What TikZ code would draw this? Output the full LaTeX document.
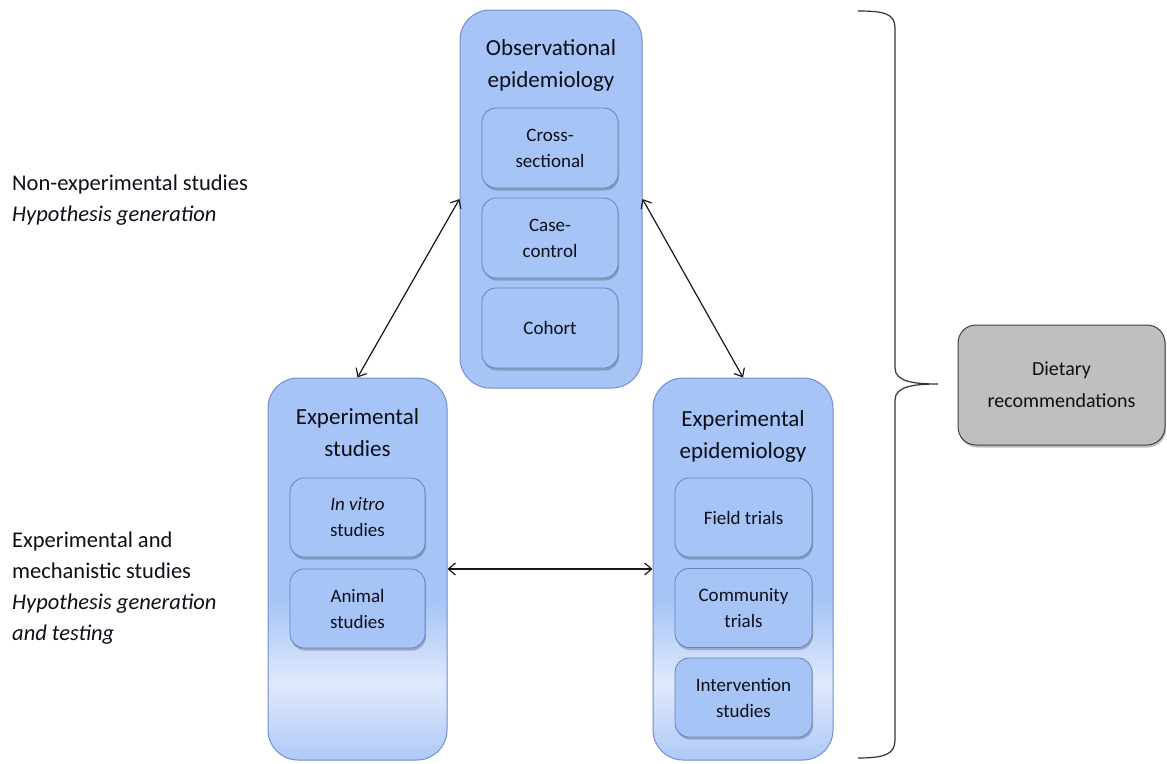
\documentclass[tikz,border=0pt]{standalone}
\usepackage{fontspec}
\setmainfont{Carlito}
\usetikzlibrary{arrows.meta,shadows,calc}
\definecolor{boxblue}{RGB}{166,196,246}
\definecolor{boxlight}{RGB}{224,233,252}
\definecolor{boxborder}{RGB}{112,143,206}
\definecolor{innerborder}{RGB}{100,130,198}
\definecolor{dietgray}{RGB}{191,191,191}
\definecolor{txt}{RGB}{15,15,25}
\pgfdeclareverticalshading{bandshade}{100bp}{color(0bp)=(boxblue); color(25bp)=(boxblue!85!boxlight); color(35bp)=(boxlight); color(46bp)=(boxblue); color(100bp)=(boxblue)}
\tikzset{
  bigbox/.style={draw=boxborder, fill=boxblue, line width=1pt, rounded corners=30pt, inner sep=0pt},
  fadeband/.style={shading=bandshade, shading angle=0},
  boxtitle/.style={font=\fontsize{23}{32}\selectfont, align=center, text=txt, inner sep=0pt},
  innerbox/.style={draw=innerborder, fill=boxblue, line width=0.8pt, rounded corners=14pt,
    align=center, font=\fontsize{19}{26}\selectfont, text=txt, inner sep=0pt,
    drop shadow={shadow xshift=1pt, shadow yshift=-2.5pt, opacity=0.35, fill=black!70}},
  sidetext/.style={font=\fontsize{22.5}{31}\selectfont, align=left, inner sep=0pt, text=txt, anchor=west},
  conn/.style={{Straight Barb[length=7pt,width=12pt]}-{Straight Barb[length=7pt,width=12pt]}, line width=1.2pt, black!90},
}
\begin{document}
\begin{tikzpicture}[x=1pt,y=1pt]
\useasboundingbox[fill=white] (0,0) rectangle (1167,-763);

% big boxes
\node[bigbox, minimum width=182pt, minimum height=378pt] (T) at (551,-199) {};
\node[bigbox, fadeband, minimum width=179pt, minimum height=382pt] (L) at (357.5,-569) {};
\node[bigbox, fadeband, minimum width=180pt, minimum height=382pt] (R) at (743,-569) {};

% titles
\node[boxtitle] (Tt) at (551,-65) {Observational\\epidemiology};
\node[boxtitle] (Lt) at (357.5,-433) {Experimental\\studies};
\node[boxtitle] (Rt) at (743,-436) {Experimental\\epidemiology};

% inner boxes
\node[innerbox, minimum width=136pt, minimum height=80pt] (cs) at (550,-148) {Cross-\\sectional};
\node[innerbox, minimum width=136pt, minimum height=80pt] (cc) at (550,-238) {Case-\\control};
\node[innerbox, minimum width=136pt, minimum height=80pt] (co) at (550,-328) {Cohort};

\node[innerbox, minimum width=135pt, minimum height=79pt] (iv) at (357.5,-517.5) {\textit{In vitro}\\studies};
\node[innerbox, minimum width=135pt, minimum height=79pt] (an) at (357.5,-608.5) {Animal\\studies};

\node[innerbox, minimum width=137pt, minimum height=79pt] (ft) at (743.5,-517.5) {Field trials};
\node[innerbox, minimum width=137pt, minimum height=79pt] (ct) at (743.5,-608) {Community\\trials};
\node[innerbox, minimum width=137pt, minimum height=79pt] (is) at (743.5,-697.5) {Intervention\\studies};

% dietary recommendations
\node[draw=black!75, fill=dietgray, rounded corners=18pt, line width=1pt,
      minimum width=207pt, minimum height=120pt, inner sep=0pt,
      drop shadow={shadow xshift=1pt, shadow yshift=-2.5pt, opacity=0.35, fill=black!70},
      font=\fontsize{20}{32}\selectfont, align=center, text=txt] (D) at (1061.5,-385) {Dietary\\recommendations};

% side texts
\node[sidetext] (n1) at (12,-200) {Non-experimental studies\\\textit{Hypothesis generation}};
\node[sidetext] (n2) at (12,-588) {Experimental and\\mechanistic studies\\\textit{Hypothesis generation}\\\textit{and testing}};

% connectors
\draw[conn] (T.west) -- (L.north);
\draw[conn] (T.east) -- (R.north);
\draw[conn] (L.east) -- (R.west);

% brace
\draw[line width=1.2pt, black!80]
  (858,-11) .. controls (885,-11) and (895,-14) .. (895,-28)
  -- (895,-368)
  .. controls (895,-382) and (915,-384) .. (938,-384)
  .. controls (915,-384) and (895,-386) .. (895,-400)
  -- (895,-740)
  .. controls (895,-754) and (885,-758) .. (858,-758);
\end{tikzpicture}
\end{document}
